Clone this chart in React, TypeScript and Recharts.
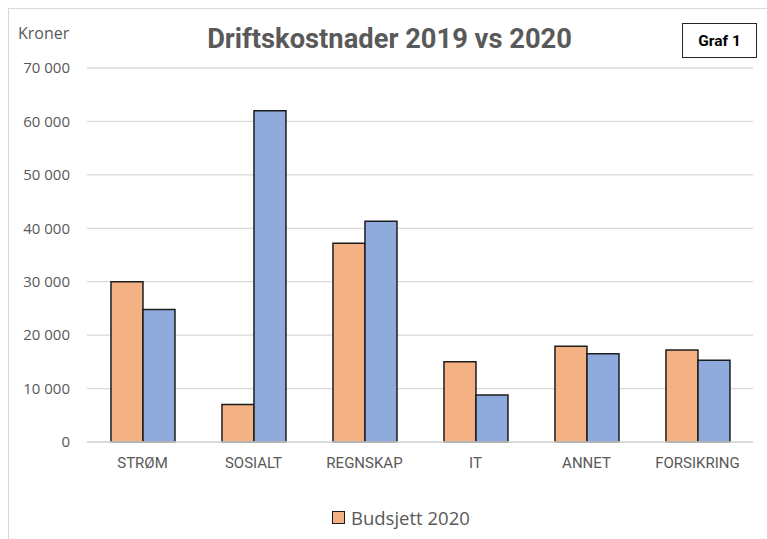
import { BarChart, Bar, XAxis, YAxis, CartesianGrid } from "recharts";

// Driftskostnader per kategori. Orange = budsjett 2020 (eneste i legenden), blå = regnskap 2019.
const categories = ["STRØM", "SOSIALT", "REGNSKAP", "IT", "ANNET", "FORSIKRING"];
const budsjett2020 = [30000, 7000, 37200, 15000, 17900, 17200];
const regnskap2019 = [24800, 62000, 41300, 8800, 16500, 15300];
const yTicks = [0, 10000, 20000, 30000, 40000, 50000, 60000, 70000];

const ORANGE = "#F4B183";
const BLUE = "#8FAADC";
const EDGE = "#1c1c1c";
const GRID = "#d9d9d9";
const TEXT = "#595959";

const data = categories.map((c, i) => ({
  category: c,
  budsjett: budsjett2020[i],
  regnskap: regnskap2019[i],
}));

const fmt = (v: number) => v.toLocaleString("en-US").replace(/,/g, " ");

export default function App() {
  return (
    <div
      style={{
        position: "fixed",
        left: 0,
        top: 0,
        width: 767,
        height: 539,
        overflow: "hidden",
        background: "#fff",
      }}
    >
      {/* chart frame, cut off by the window at right and bottom */}
      <div
        style={{
          position: "absolute",
          left: 8,
          top: 8,
          width: 800,
          height: 600,
          border: `1px solid ${GRID}`,
        }}
      />
      <div
        style={{
          position: "absolute",
          left: 18,
          top: 22,
          fontFamily: "'Open Sans', sans-serif",
          fontSize: 16,
          color: TEXT,
        }}
      >
        Kroner
      </div>
      <div
        style={{
          position: "absolute",
          left: 0,
          width: 779,
          top: 23,
          textAlign: "center",
          fontFamily: "Roboto, sans-serif",
          fontWeight: 700,
          fontSize: 27.3,
          color: TEXT,
        }}
      >
        Driftskostnader 2019 vs 2020
      </div>
      <div
        style={{
          position: "absolute",
          left: 682,
          top: 23,
          width: 73,
          height: 33,
          border: "1.5px solid #262626",
          display: "flex",
          alignItems: "center",
          justifyContent: "center",
          fontFamily: "Roboto, sans-serif",
          fontWeight: 700,
          fontSize: 15.5,
          color: "#000",
        }}
      >
        Graf 1
      </div>

      <div style={{ position: "absolute", left: 0, top: 0 }}>
        <BarChart
          width={767}
          height={539}
          data={data}
          margin={{ top: 68, right: 14, bottom: 67, left: 0 }}
          barCategoryGap="21.6%"
          barGap={0}
        >
          <CartesianGrid stroke={GRID} strokeWidth={1.3} vertical={false} />
          <XAxis
            dataKey="category"
            height={30}
            tickLine={false}
            tickMargin={9}
            axisLine={{ stroke: GRID, strokeWidth: 1.3 }}
            tick={{ fill: TEXT, fontSize: 15, fontFamily: "Roboto, sans-serif" }}
          />
          <YAxis
            width={87}
            domain={[0, 70000]}
            ticks={yTicks}
            tickLine={false}
            axisLine={false}
            tickMargin={11}
            tickFormatter={fmt}
            tick={{ fill: TEXT, fontSize: 15, fontFamily: "'Open Sans', sans-serif" }}
          />
          <Bar
            dataKey="budsjett"
            name="Budsjett 2020"
            fill={ORANGE}
            stroke={EDGE}
            strokeWidth={1.5}
            isAnimationActive={false}
          />
          <Bar
            dataKey="regnskap"
            name="Regnskap 2019"
            fill={BLUE}
            stroke={EDGE}
            strokeWidth={1.5}
            legendType="none"
            isAnimationActive={false}
          />
        </BarChart>
      </div>

      <div
        style={{
          position: "absolute",
          left: 332,
          top: 505,
          display: "flex",
          alignItems: "center",
          gap: 6,
          fontFamily: "'Open Sans', sans-serif",
          fontSize: 18.5,
          color: TEXT,
        }}
      >
        <span
          style={{
            display: "inline-block",
            width: 11,
            height: 11,
            background: ORANGE,
            border: `1.5px solid ${EDGE}`,
          }}
        />
        Budsjett 2020
      </div>
    </div>
  );
}
